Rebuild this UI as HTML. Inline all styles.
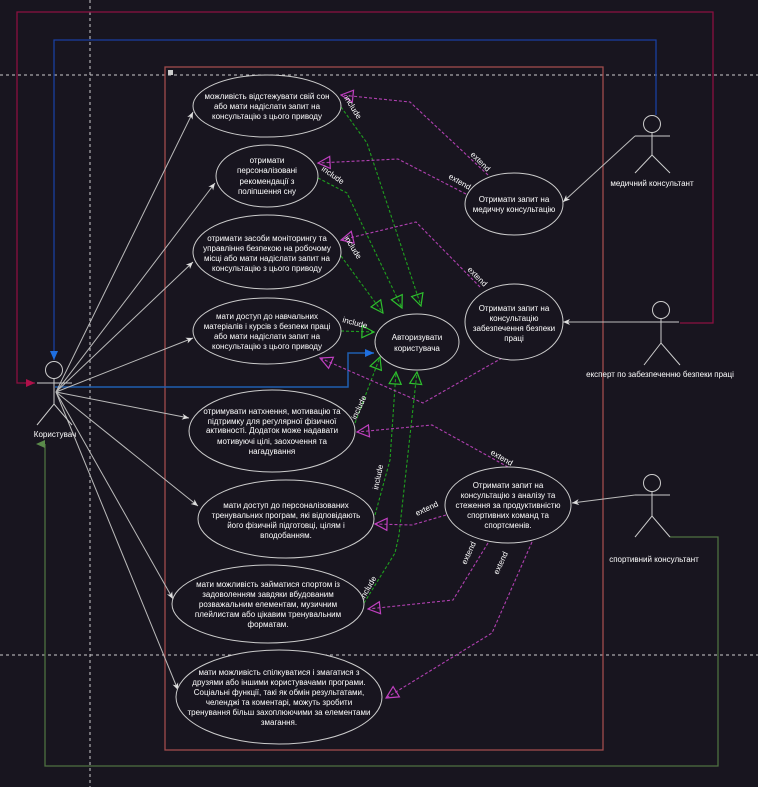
<!DOCTYPE html>
<html><head><meta charset="utf-8"><style>
html,body{margin:0;padding:0;background:#18151f;}
svg{display:block}
text{font-family:"Liberation Sans",sans-serif;fill:#fff;font-size:8px;}
</style></head><body>
<svg width="758" height="787" viewBox="0 0 758 787" xmlns="http://www.w3.org/2000/svg">
<defs>
<marker id="wa" markerWidth="8" markerHeight="8" refX="7" refY="4" orient="auto" markerUnits="userSpaceOnUse"><path d="M0,1 L7,4 L0,7 L2,4 Z" fill="#ddd"/></marker>
<marker id="ba" markerWidth="10" markerHeight="10" refX="9" refY="5" orient="auto" markerUnits="userSpaceOnUse"><path d="M0,1 L9,5 L0,9 Z" fill="#1f6fe0"/></marker>
<marker id="ra" markerWidth="10" markerHeight="10" refX="9" refY="5" orient="auto" markerUnits="userSpaceOnUse"><path d="M0,1 L9,5 L0,9 Z" fill="#b0104a"/></marker>
<marker id="ga" markerWidth="10" markerHeight="10" refX="5" refY="9" orient="auto" markerUnits="userSpaceOnUse"><path d="M1,9 L5,0 L9,9 Z" fill="#5a8a4a"/></marker>
<marker id="gt" markerWidth="14" markerHeight="14" refX="13" refY="7" orient="auto" markerUnits="userSpaceOnUse"><path d="M1,1 L13,7 L1,13 Z" fill="none" stroke="#2ec02e" stroke-width="1.2"/></marker>
<marker id="mt" markerWidth="14" markerHeight="14" refX="13" refY="7" orient="auto" markerUnits="userSpaceOnUse"><path d="M1,1 L13,7 L1,13 Z" fill="none" stroke="#c040c0" stroke-width="1.2"/></marker>
</defs>
<line x1="0" y1="75" x2="758" y2="75" stroke="#ccc" stroke-dasharray="3,3" stroke-width="1"/>
<line x1="0" y1="655" x2="758" y2="655" stroke="#ccc" stroke-dasharray="3,3" stroke-width="1"/>
<line x1="90" y1="0" x2="90" y2="787" stroke="#ccc" stroke-dasharray="3,3" stroke-width="1"/>
<rect x="165" y="67" width="438" height="683" fill="none" stroke="#a04c4c" stroke-width="1.3"/>
<rect x="168" y="70" width="5" height="5" fill="#ccc"/>
<polyline points="680,323 713,323 713,12 17,12 17,383 35,383" fill="none" stroke="#8a1040" stroke-width="1.3" marker-end="url(#ra)"/>
<polyline points="656,115 656,40 54,40 54,360" fill="none" stroke="#1a3fa0" stroke-width="1.3" marker-end="url(#ba)"/>
<polyline points="55,387 348,387 348,353 374,353" fill="none" stroke="#1f5fb0" stroke-width="1.5" marker-end="url(#ba)"/>
<polyline points="670,537 718,537 718,766 45,766 45,444" fill="none" stroke="#4e7040" stroke-width="1.3" marker-end="url(#ga)"/>
<g stroke="#bbb" stroke-width="1" fill="none" marker-end="url(#wa)">
<line x1="56" y1="392" x2="193" y2="112"/>
<line x1="56" y1="392" x2="215" y2="183"/>
<line x1="56" y1="392" x2="193" y2="262"/>
<line x1="56" y1="392" x2="193" y2="338"/>
<line x1="56" y1="392" x2="189" y2="418"/>
<line x1="56" y1="392" x2="198" y2="506"/>
<line x1="56" y1="392" x2="173" y2="599"/>
<line x1="56" y1="392" x2="178" y2="690"/>
<line x1="635" y1="136" x2="563" y2="202"/>
<line x1="640" y1="322" x2="563" y2="322"/>
<line x1="635" y1="495" x2="572" y2="503"/>
</g>
<g stroke="#1fa01f" stroke-width="1.1" fill="none" stroke-dasharray="3,2" marker-end="url(#gt)">
<polyline points="341,107 367,143 421,306"/>
<polyline points="318,178 347,193 402,308"/>
<polyline points="341,256 383,313"/>
<polyline points="341,331 374,332"/>
<polyline points="355,423 380,357"/>
<polyline points="375,515 390,460 396,372"/>
<polyline points="364,603 395,553 399,535 417,372"/>
</g>
<g stroke="#b040b0" stroke-width="1.1" fill="none" stroke-dasharray="3,2" marker-end="url(#mt)">
<polyline points="488,175 410,102 341,95"/>
<polyline points="466,194 398,159 318,163"/>
<polyline points="480,287 416,222 341,240"/>
<polyline points="502,358 423,403 320,358"/>
<polyline points="508,467 432,425 357,432"/>
<polyline points="446,515 412,525 375,524"/>
<polyline points="488,543 453,600 368,609"/>
<polyline points="532,542 492,633 386,698"/>
</g>
<g font-size="7.5">
<text transform="translate(344,98) rotate(58)">include</text>
<text transform="translate(321,170) rotate(35)">include</text>
<text transform="translate(344,238) rotate(58)">include</text>
<text transform="translate(342,322) rotate(15)">include</text>
<text transform="translate(356,420) rotate(-65)">include</text>
<text transform="translate(378,490) rotate(-78)">include</text>
<text transform="translate(364,600) rotate(-60)">include</text>
<text transform="translate(470,155) rotate(45)">extend</text>
<text transform="translate(448,178) rotate(30)">extend</text>
<text transform="translate(467,270) rotate(45)">extend</text>
<text transform="translate(490,454) rotate(30)">extend</text>
<text transform="translate(417,516) rotate(-25)">extend</text>
<text transform="translate(466,565) rotate(-65)">extend</text>
<text transform="translate(498,575) rotate(-65)">extend</text>
</g>
<g stroke="#ccc" stroke-width="1" fill="#18151f">
<ellipse cx="267" cy="106" rx="74" ry="31"/>
<ellipse cx="267" cy="176" rx="51" ry="31"/>
<ellipse cx="267" cy="252" rx="74" ry="37"/>
<ellipse cx="267" cy="331" rx="74" ry="33"/>
<ellipse cx="417" cy="342" rx="42" ry="28"/>
<ellipse cx="514" cy="204" rx="49" ry="31"/>
<ellipse cx="514" cy="322" rx="49" ry="38"/>
<ellipse cx="272" cy="431" rx="83" ry="41"/>
<ellipse cx="286" cy="519" rx="88" ry="39"/>
<ellipse cx="268" cy="604" rx="96" ry="39"/>
<ellipse cx="508" cy="505" rx="63" ry="38"/>
<ellipse cx="279" cy="697" rx="103" ry="47"/>
</g>
<g text-anchor="middle">
<text x="267" y="99">можливість відстежувати свій сон</text><text x="267" y="109">або мати надіслати запит на</text><text x="267" y="119">консультацію з цього приводу</text>
<text x="267" y="163">отримати</text><text x="267" y="173">персоналізовані</text><text x="267" y="184">рекомендації з</text><text x="267" y="194">поліпшення сну</text>
<text x="267" y="241">отримати засоби моніторингу та</text><text x="267" y="251">управління безпекою на робочому</text><text x="267" y="261">місці або мати надіслати запит на</text><text x="267" y="271">консультацію з цього приводу</text>
<text x="267" y="319">мати доступ до навчальних</text><text x="267" y="329">матеріалів і курсів з безпеки праці</text><text x="267" y="339">або мати надіслати запит на</text><text x="267" y="349">консультацію з цього приводу</text>
<text x="417" y="340">Авторизувати</text><text x="417" y="351">користувача</text>
<text x="514" y="202">Отримати запит на</text><text x="514" y="212">медичну консультацію</text>
<text x="514" y="311">Отримати запит на</text><text x="514" y="321">консультацію</text><text x="514" y="331">забезпечення безпеки</text><text x="514" y="341">праці</text>
<text x="272" y="414">отримувати натхнення, мотивацію та</text><text x="272" y="424">підтримку для регулярної фізичної</text><text x="272" y="433">активності. Додаток може надавати</text><text x="272" y="444">мотивуючі цілі, заохочення та</text><text x="272" y="454">нагадування</text>
<text x="286" y="508">мати доступ до персоналізованих</text><text x="286" y="518">тренувальних програм, які відповідають</text><text x="286" y="528">його фізичній підготовці, цілям і</text><text x="286" y="538">вподобанням.</text>
<text x="508" y="488">Отримати запит на</text><text x="508" y="498">консультацію з аналізу та</text><text x="508" y="508">стеження за продуктивністю</text><text x="508" y="518">спортивних команд та</text><text x="508" y="528">спортсменів.</text>
<text x="268" y="587">мати можливість займатися спортом із</text><text x="268" y="597">задоволенням завдяки вбудованим</text><text x="268" y="607">розважальним елементам, музичним</text><text x="268" y="617">плейлистам або цікавим тренувальним</text><text x="268" y="627">форматам.</text>
<text x="279" y="675">мати можливість спілкуватися і змагатися з</text><text x="279" y="685">друзями або іншими користувачами програми.</text><text x="279" y="695">Соціальні функції, такі як обмін результатами,</text><text x="279" y="705">челенджі та коментарі, можуть зробити</text><text x="279" y="715">тренування більш захоплюючими за елементами</text><text x="279" y="725">змагання.</text>
</g>
<g stroke="#ccc" stroke-width="1" fill="none">
<circle cx="54" cy="370" r="8.5"/><line x1="54" y1="379" x2="54" y2="404"/><line x1="37" y1="383" x2="72" y2="383"/><polyline points="37,425 54,404 72,425"/>
<circle cx="652" cy="124" r="8.5"/><line x1="652" y1="133" x2="652" y2="155"/><line x1="635" y1="136" x2="670" y2="136"/><polyline points="635,173 652,155 670,173"/>
<circle cx="661" cy="310" r="8.5"/><line x1="661" y1="319" x2="661" y2="343"/><line x1="640" y1="322" x2="679" y2="322"/><polyline points="644,365 661,343 680,365"/>
<circle cx="652" cy="483" r="8.5"/><line x1="652" y1="492" x2="652" y2="516"/><line x1="635" y1="495" x2="670" y2="495"/><polyline points="635,537 652,516 670,537"/>
</g>
<g text-anchor="middle" font-size="8">
<text x="55" y="437">Користувач</text>
<text x="652" y="186">медичний консультант</text>
<text x="660" y="377">експерт по забезпеченню безпеки праці</text>
<text x="654" y="562">спортивний консультант</text>
</g>
</svg>
</body></html>
